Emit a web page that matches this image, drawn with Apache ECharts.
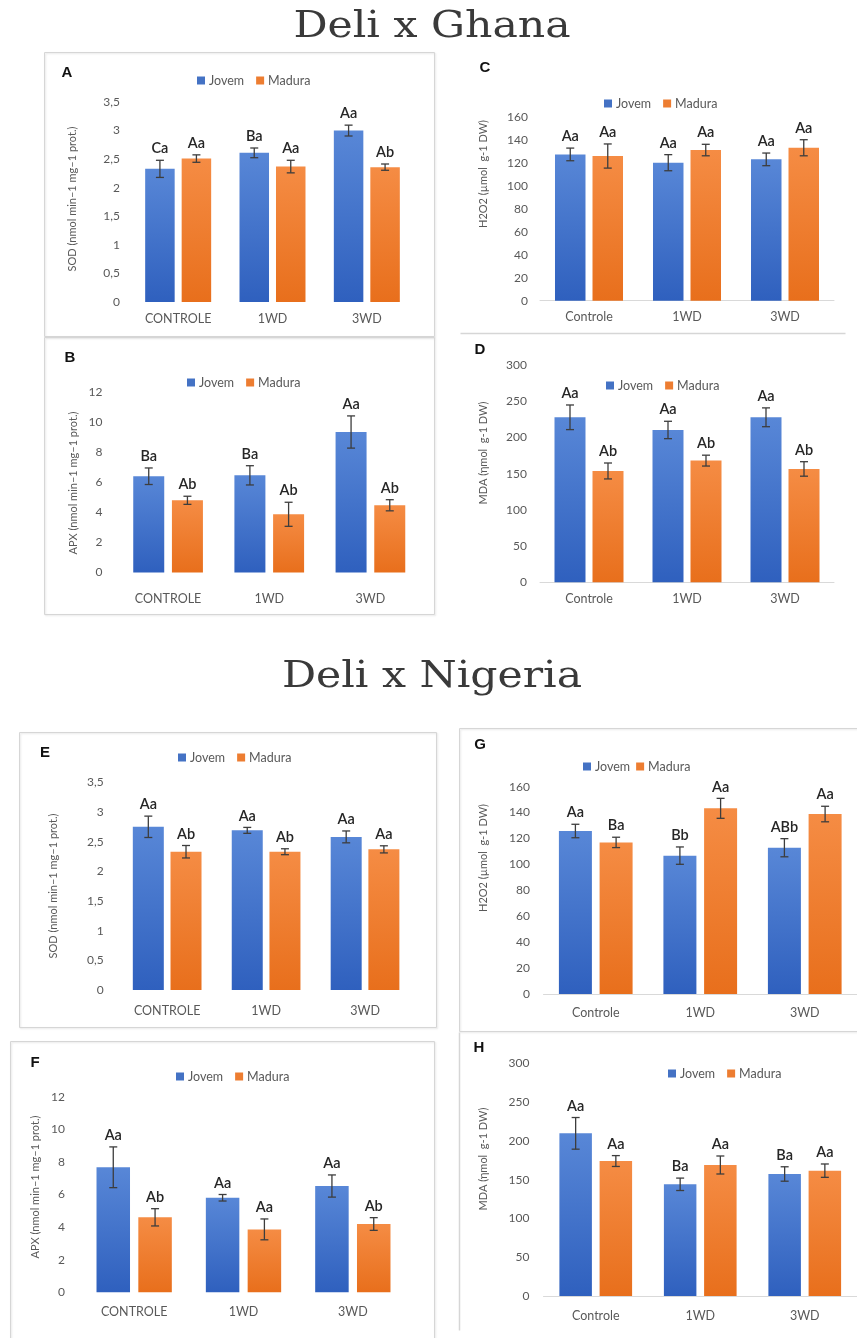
<!DOCTYPE html>
<html>
<head>
<meta charset="utf-8">
<script src="https://cdn.jsdelivr.net/npm/echarts@6/dist/echarts.min.js"></script>
<style>
  html, body { margin: 0; padding: 0; background: #ffffff; }
  #chart { width: 857px; height: 1338px; }
</style>
</head>
<body>
<div id="chart"></div>
<script>
// ---------- categories ----------
const categoriesCaps = ['CONTROLE', '1WD', '3WD'];
const categoriesMixed = ['Controle', '1WD', '3WD'];

// ---------- Deli x Ghana ----------
// A: SOD
const sodGhanaJovem = [2.33, 2.61, 3.00];
const sodGhanaJovemErr = [0.15, 0.085, 0.095];
const sodGhanaJovemLetters = ['Ca', 'Ba', 'Aa'];
const sodGhanaMadura = [2.51, 2.37, 2.36];
const sodGhanaMaduraErr = [0.065, 0.11, 0.055];
const sodGhanaMaduraLetters = ['Aa', 'Aa', 'Ab'];
// B: APX
const apxGhanaJovem = [6.40, 6.46, 9.34];
const apxGhanaJovemErr = [0.55, 0.64, 1.07];
const apxGhanaJovemLetters = ['Ba', 'Ba', 'Aa'];
const apxGhanaMadura = [4.80, 3.87, 4.47];
const apxGhanaMaduraErr = [0.27, 0.80, 0.37];
const apxGhanaMaduraLetters = ['Ab', 'Ab', 'Ab'];
// C: H2O2
const h2o2GhanaJovem = [127.2, 120.0, 122.9];
const h2o2GhanaJovemErr = [5.5, 7, 5.5];
const h2o2GhanaJovemLetters = ['Aa', 'Aa', 'Aa'];
const h2o2GhanaMadura = [125.8, 131.0, 133.0];
const h2o2GhanaMaduraErr = [10.5, 5, 7];
const h2o2GhanaMaduraLetters = ['Aa', 'Aa', 'Aa'];
// D: MDA
const mdaGhanaJovem = [227.8, 210.3, 227.8];
const mdaGhanaJovemErr = [17, 12, 13];
const mdaGhanaJovemLetters = ['Aa', 'Aa', 'Aa'];
const mdaGhanaMadura = [153.7, 168.0, 156.5];
const mdaGhanaMaduraErr = [11, 7.5, 10];
const mdaGhanaMaduraLetters = ['Ab', 'Ab', 'Ab'];

// ---------- Deli x Nigeria ----------
// E: SOD
const sodNigeriaJovem = [2.75, 2.69, 2.58];
const sodNigeriaJovemErr = [0.18, 0.05, 0.10];
const sodNigeriaJovemLetters = ['Aa', 'Aa', 'Aa'];
const sodNigeriaMadura = [2.33, 2.33, 2.37];
const sodNigeriaMaduraErr = [0.105, 0.05, 0.06];
const sodNigeriaMaduraLetters = ['Ab', 'Ab', 'Aa'];
// F: APX
const apxNigeriaJovem = [7.67, 5.80, 6.52];
const apxNigeriaJovemErr = [1.25, 0.20, 0.68];
const apxNigeriaJovemLetters = ['Aa', 'Aa', 'Aa'];
const apxNigeriaMadura = [4.60, 3.86, 4.19];
const apxNigeriaMaduraErr = [0.53, 0.64, 0.39];
const apxNigeriaMaduraLetters = ['Ab', 'Aa', 'Ab'];
// G: H2O2
const h2o2NigeriaJovem = [125.8, 106.8, 112.9];
const h2o2NigeriaJovemErr = [5.2, 6.7, 7];
const h2o2NigeriaJovemLetters = ['Aa', 'Bb', 'ABb'];
const h2o2NigeriaMadura = [117.0, 143.3, 138.9];
const h2o2NigeriaMaduraErr = [4, 7.7, 6];
const h2o2NigeriaMaduraLetters = ['Ba', 'Aa', 'Aa'];
// H: MDA
const mdaNigeriaJovem = [209.7, 144.0, 157.3];
const mdaNigeriaJovemErr = [20.4, 8, 9.3];
const mdaNigeriaJovemLetters = ['Aa', 'Ba', 'Ba'];
const mdaNigeriaMadura = [174.0, 168.9, 161.6];
const mdaNigeriaMaduraErr = [7, 11.6, 8.6];
const mdaNigeriaMaduraLetters = ['Aa', 'Aa', 'Aa'];

// ---------- axis names ----------
const sodAxisName = 'SOD (nmol min\u20131 mg\u20131 prot.)';
const apxAxisName = 'APX (nmol min\u20131 mg\u20131 prot.)';
const h2o2AxisName = 'H2O2 (\u00b5mol  g-1 DW)';
const mdaAxisName = 'MDA (\u03b7mol  g-1 DW)';

// ---------- section headings ----------
const sectionTitles = ['Deli x Ghana', 'Deli x Nigeria'];

// ---------- panel definitions (data only) ----------
const panels = [
  { id: 'A', cats: categoriesCaps, axisName: sodAxisName, yMax: 3.5, yStep: 0.5,
    jovem: sodGhanaJovem, jovemErr: sodGhanaJovemErr, jovemLetters: sodGhanaJovemLetters,
    madura: sodGhanaMadura, maduraErr: sodGhanaMaduraErr, maduraLetters: sodGhanaMaduraLetters },
  { id: 'B', cats: categoriesCaps, axisName: apxAxisName, yMax: 12, yStep: 2,
    jovem: apxGhanaJovem, jovemErr: apxGhanaJovemErr, jovemLetters: apxGhanaJovemLetters,
    madura: apxGhanaMadura, maduraErr: apxGhanaMaduraErr, maduraLetters: apxGhanaMaduraLetters },
  { id: 'C', cats: categoriesMixed, axisName: h2o2AxisName, yMax: 160, yStep: 20,
    jovem: h2o2GhanaJovem, jovemErr: h2o2GhanaJovemErr, jovemLetters: h2o2GhanaJovemLetters,
    madura: h2o2GhanaMadura, maduraErr: h2o2GhanaMaduraErr, maduraLetters: h2o2GhanaMaduraLetters },
  { id: 'D', cats: categoriesMixed, axisName: mdaAxisName, yMax: 300, yStep: 50,
    jovem: mdaGhanaJovem, jovemErr: mdaGhanaJovemErr, jovemLetters: mdaGhanaJovemLetters,
    madura: mdaGhanaMadura, maduraErr: mdaGhanaMaduraErr, maduraLetters: mdaGhanaMaduraLetters },
  { id: 'E', cats: categoriesCaps, axisName: sodAxisName, yMax: 3.5, yStep: 0.5,
    jovem: sodNigeriaJovem, jovemErr: sodNigeriaJovemErr, jovemLetters: sodNigeriaJovemLetters,
    madura: sodNigeriaMadura, maduraErr: sodNigeriaMaduraErr, maduraLetters: sodNigeriaMaduraLetters },
  { id: 'F', cats: categoriesCaps, axisName: apxAxisName, yMax: 12, yStep: 2,
    jovem: apxNigeriaJovem, jovemErr: apxNigeriaJovemErr, jovemLetters: apxNigeriaJovemLetters,
    madura: apxNigeriaMadura, maduraErr: apxNigeriaMaduraErr, maduraLetters: apxNigeriaMaduraLetters },
  { id: 'G', cats: categoriesMixed, axisName: h2o2AxisName, yMax: 160, yStep: 20,
    jovem: h2o2NigeriaJovem, jovemErr: h2o2NigeriaJovemErr, jovemLetters: h2o2NigeriaJovemLetters,
    madura: h2o2NigeriaMadura, maduraErr: h2o2NigeriaMaduraErr, maduraLetters: h2o2NigeriaMaduraLetters },
  { id: 'H', cats: categoriesMixed, axisName: mdaAxisName, yMax: 300, yStep: 50,
    jovem: mdaNigeriaJovem, jovemErr: mdaNigeriaJovemErr, jovemLetters: mdaNigeriaJovemLetters,
    madura: mdaNigeriaMadura, maduraErr: mdaNigeriaMaduraErr, maduraLetters: mdaNigeriaMaduraLetters }
];

// ---------- page layout (pixels) ----------
const layout = {
  A: { grid: [131, 102, 283, 200],     barWidth: 29.5, gapPx: 7,   legendAt: [197, 81],   legendGap: 12, letterAt: [67, 73],   nameAt: [72, 199],   tickMargin: 11,   catMargin: 10,   baseLine: false },
  B: { grid: [117.5, 392, 303.5, 180.5], barWidth: 31,  gapPx: 7.7, legendAt: [187, 383],  legendGap: 12, letterAt: [70, 358],  nameAt: [73, 483],   tickMargin: 15,   catMargin: 20,   baseLine: false },
  C: { grid: [540, 116.7, 294, 184],   barWidth: 30.5, gapPx: 7,   legendAt: [604, 104],  legendGap: 12, letterAt: [485, 68],  nameAt: [483, 174],  tickMargin: 12,   catMargin: 10,   baseLine: true },
  D: { grid: [540, 365, 294, 217.3],   barWidth: 31,   gapPx: 7,   legendAt: [606, 386],  legendGap: 12, letterAt: [480, 350], nameAt: [483, 453],  tickMargin: 13,   catMargin: 10,   baseLine: true },
  E: { grid: [117.7, 782.3, 296.8, 207.7], barWidth: 31, gapPx: 6.7, legendAt: [178, 758], legendGap: 12, letterAt: [45, 753], nameAt: [53, 886],   tickMargin: 14,   catMargin: 14,   baseLine: false },
  F: { grid: [79.5, 1096.7, 328, 195.6], barWidth: 33.5, gapPx: 8.3, legendAt: [176, 1077], legendGap: 12, letterAt: [35, 1063], nameAt: [35, 1187], tickMargin: 14.5, catMargin: 13.5, baseLine: false },
  G: { grid: [543.5, 786.7, 314.5, 207.3], barWidth: 33, gapPx: 7.7, legendAt: [583, 767], legendGap: 6,  letterAt: [480, 745], nameAt: [483, 858], tickMargin: 13.5, catMargin: 12,   baseLine: true },
  H: { grid: [543.5, 1063.3, 314.5, 232.7], barWidth: 32.5, gapPx: 7.7, legendAt: [668, 1074], legendGap: 12, letterAt: [479, 1048], nameAt: [483, 1159], tickMargin: 14, catMargin: 13, baseLine: true }
};
const titleCenters = [[432, 27], [432, 677]];

// ---------- styles ----------
const AXIS_FONT = 'Lato, "Noto Sans", sans-serif';
const TEXT_GREY = '#595959';
const BLUE = '#4472C4';
const ORANGE = '#ED7D31';
const blueFill = new echarts.graphic.LinearGradient(0, 0, 0, 1, [
  { offset: 0, color: '#5887D7' }, { offset: 1, color: '#2F60BE' }
]);
const orangeFill = new echarts.graphic.LinearGradient(0, 0, 0, 1, [
  { offset: 0, color: '#F58C44' }, { offset: 1, color: '#E86F1C' }
]);

// error bar (mean ± SE) with the significance letters on top of it
function errorBarRenderer(shift, letters) {
  return function (params, api) {
    const idx = api.value(0);
    const val = api.value(1);
    const err = api.value(2);
    const center = api.coord([idx, val]);
    const x = center[0] + shift;
    const yTop = api.coord([idx, val + err])[1];
    const yBot = api.coord([idx, val - err])[1];
    const cap = 4;
    const stroke = { stroke: '#3d3d3d', lineWidth: 1.3 };
    return {
      type: 'group',
      children: [
        { type: 'line', shape: { x1: x, y1: yTop, x2: x, y2: yBot }, style: stroke },
        { type: 'line', shape: { x1: x - cap, y1: yTop, x2: x + cap, y2: yTop }, style: stroke },
        { type: 'line', shape: { x1: x - cap, y1: yBot, x2: x + cap, y2: yBot }, style: stroke },
        { type: 'text', x: x, y: yTop - 4,
          style: { text: letters[params.dataIndex], align: 'center', verticalAlign: 'bottom',
                   fontFamily: AXIS_FONT, fontWeight: 600, fontSize: 14.5, fill: '#262626' } }
      ]
    };
  };
}

const grid = [], xAxis = [], yAxis = [], series = [], legend = [], graphic = [];

panels.forEach((p, i) => {
  const L = layout[p.id];
  grid.push({ left: L.grid[0], top: L.grid[1], width: L.grid[2], height: L.grid[3], containLabel: false });
  xAxis.push({
    type: 'category', gridIndex: i, data: p.cats,
    axisTick: { show: false },
    axisLine: { show: L.baseLine, lineStyle: { color: '#d9d9d9', width: 1 } },
    axisLabel: { margin: L.catMargin, color: TEXT_GREY, fontFamily: AXIS_FONT, fontSize: 12.5 }
  });
  yAxis.push({
    type: 'value', gridIndex: i, min: 0, max: p.yMax, interval: p.yStep,
    splitLine: { show: false }, axisLine: { show: false }, axisTick: { show: false },
    axisLabel: { margin: L.tickMargin, color: TEXT_GREY, fontFamily: AXIS_FONT, fontSize: 12,
                 formatter: v => String(v).replace('.', ',') }
  });
  const gapPct = (L.gapPx / L.barWidth * 100).toFixed(1) + '%';
  const shift = (L.barWidth + L.gapPx) / 2;
  series.push({
    type: 'bar', name: 'Jovem', xAxisIndex: i, yAxisIndex: i, data: p.jovem,
    barWidth: L.barWidth, barGap: gapPct, itemStyle: { color: blueFill }, silent: true
  });
  series.push({
    type: 'bar', name: 'Madura', xAxisIndex: i, yAxisIndex: i, data: p.madura,
    barWidth: L.barWidth, barGap: gapPct, itemStyle: { color: orangeFill }, silent: true
  });
  series.push({
    type: 'custom', name: 'erro-jovem-' + p.id, xAxisIndex: i, yAxisIndex: i, z: 5, silent: true,
    renderItem: errorBarRenderer(-shift, p.jovemLetters),
    encode: { x: 0, y: 1 },
    data: p.jovem.map((v, k) => [k, v, p.jovemErr[k]])
  });
  series.push({
    type: 'custom', name: 'erro-madura-' + p.id, xAxisIndex: i, yAxisIndex: i, z: 5, silent: true,
    renderItem: errorBarRenderer(shift, p.maduraLetters),
    encode: { x: 0, y: 1 },
    data: p.madura.map((v, k) => [k, v, p.maduraErr[k]])
  });
  legend.push({
    data: [{ name: 'Jovem', itemStyle: { color: BLUE } }, { name: 'Madura', itemStyle: { color: ORANGE } }],
    left: L.legendAt[0], top: L.legendAt[1] - 7, padding: 0,
    icon: 'rect', itemWidth: 8, itemHeight: 8, itemGap: L.legendGap, selectedMode: false,
    textStyle: { color: TEXT_GREY, fontFamily: AXIS_FONT, fontSize: 12.5, padding: [0, 0, 0, -1] }
  });
  // panel letter
  graphic.push({
    type: 'text', x: L.letterAt[0], y: L.letterAt[1], z: 10,
    style: { text: p.id, align: 'center', verticalAlign: 'middle',
             fontFamily: '"Liberation Sans", Arial, sans-serif', fontWeight: 'bold', fontSize: 15, fill: '#111' }
  });
  // vertical axis name
  graphic.push({
    type: 'text', x: L.nameAt[0], y: L.nameAt[1], rotation: Math.PI / 2, z: 10,
    style: { text: p.axisName, align: 'center', verticalAlign: 'middle',
             fontFamily: AXIS_FONT, fontSize: 11, fill: TEXT_GREY }
  });
});

// section headings
sectionTitles.forEach((t, k) => {
  graphic.push({
    type: 'text', x: titleCenters[k][0], y: titleCenters[k][1], scaleX: 1.15, z: 10,
    style: { text: t, align: 'center', verticalAlign: 'middle',
             fontFamily: '"DejaVu Serif", serif', fontSize: 37, fill: '#3a3a3a' }
  });
});

// panel frames
const frameStyle = { stroke: '#d6d6d6', fill: 'none', lineWidth: 1,
                     shadowBlur: 2, shadowColor: 'rgba(0,0,0,0.12)', shadowOffsetX: 1, shadowOffsetY: 1 };
[[44, 52, 390, 284], [44, 337, 390, 277], [19, 732, 417, 295], [10, 1041, 424, 310], [459, 728, 410, 303]]
  .forEach(r => graphic.push({ type: 'rect', z: 1, shape: { x: r[0] + 0.5, y: r[1] + 0.5, width: r[2], height: r[3] }, style: frameStyle }));
[[460, 333, 845, 333], [459, 1032, 459, 1330]]
  .forEach(l => graphic.push({ type: 'line', z: 1, shape: { x1: l[0] + 0.5, y1: l[1] + 0.5, x2: l[2] + 0.5, y2: l[3] + 0.5 },
                                style: { stroke: '#d6d6d6', lineWidth: 1.5 } }));

const chart = echarts.init(document.getElementById('chart'), null, { renderer: 'canvas' });
chart.setOption({
  backgroundColor: '#ffffff',
  animation: false,
  grid, xAxis, yAxis, series, legend,
  graphic: { elements: graphic }
});
</script>
</body>
</html>
